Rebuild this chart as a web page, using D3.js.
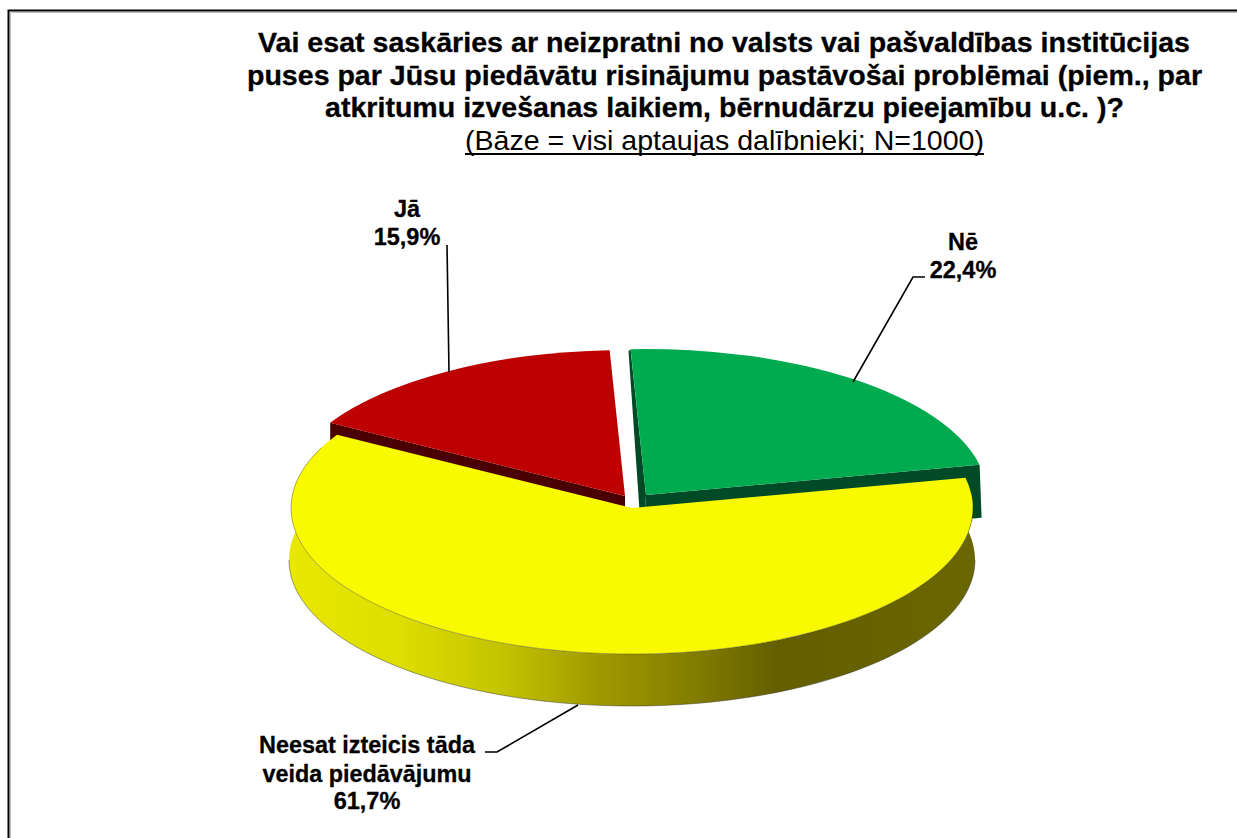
<!DOCTYPE html>
<html>
<head>
<meta charset="utf-8">
<script src="https://cdn.jsdelivr.net/npm/d3@7"></script>
<style>
html,body{margin:0;padding:0;background:#fff;overflow:hidden}
svg{display:block}
text{font-family:"Liberation Sans",Arial,sans-serif;fill:#000}
</style>
</head>
<body>
<svg id="c" width="1237" height="838"></svg>
<script>
const categories = ["Nē", "Neesat izteicis tāda veida piedāvājumu", "Jā"];
const values = [22.4, 61.7, 15.9];
const labelLines = [["Nē"], ["Neesat izteicis tāda", "veida piedāvājumu"], ["Jā"]];
const titleLines = [
  "Vai esat saskāries ar neizpratni no valsts vai pašvaldības institūcijas",
  "puses par Jūsu piedāvātu risinājumu pastāvošai problēmai (piem., par",
  "atkritumu izvešanas laikiem, bērnudārzu pieejamību u.c. )?"
];
const subtitle = "(Bāze = visi aptaujas dalībnieki; N=1000)";

// layout and style
const W = 1237, H = 838;
const rx = 341, ry = 146, depth = 52;
const startDeg = -2.6;
const sliceStyle = [
  {top:"#00aa4e", wall:"#004a26", apex:[646,495]},
  {top:"#f9f900", apex:[632,508]},
  {top:"#bd0000", wall:"#4a0000", apex:[625,496]}
];
const titleLayout = [
  {x0:258, x1:1190, y:52},
  {x0:247, x1:1202, y:85},
  {x0:325, x1:1124, y:117}
];
const labelLayout = [
  {cx:963, baselines:[250,278], textSpans:[null]},
  {cx:367, baselines:[753,782,809], textSpans:[216,209]},
  {cx:407, baselines:[217,245], textSpans:[null]}
];
const leaders = [
  [[925,277],[913,277],[853,382]],
  [[485,752],[497,752],[578,705]],
  [[447,245],[449,372]]
];
const sideStops = [
  [290,"#e8e800"],[400,"#dede00"],[506,"#c2c200"],[597,"#a09a00"],
  [687,"#857f00"],[778,"#635f00"],[975,"#6a6600"]
];

const svg = d3.select("#c");
const defs = svg.append("defs");
const grad = defs.append("linearGradient").attr("id","side")
  .attr("gradientUnits","userSpaceOnUse")
  .attr("x1",290).attr("x2",975).attr("y1",0).attr("y2",0);
const xStop = d3.scaleLinear().domain([290,975]).range([0,1]);
grad.selectAll("stop").data(sideStops).join("stop")
  .attr("offset",d=>xStop(d[0])).attr("stop-color",d=>d[1]);

// frame (runs off the right and bottom of the crop)
svg.append("path").attr("d",`M${W},10.5H8.5V${H}`).attr("fill","none").attr("stroke","#000").attr("stroke-width",2);
svg.append("path").attr("d",`M${W},12.5H10.5V${H}`).attr("fill","none").attr("stroke","#bbb").attr("stroke-width",1);

const pie = d3.pie().sort(null).value(d=>d)
  .startAngle(startDeg*Math.PI/180)
  .endAngle((startDeg+360)*Math.PI/180);
const arcs = pie(values);
const arcGen = d3.arc().innerRadius(0).outerRadius(1);
const pt = (c,a,rX=rx,rY=ry,dy=0)=>[c[0]+rX*Math.sin(a), c[1]-rY*Math.cos(a)+dy];
const line = d3.line();
const curve = (c,a0,a1,rX,rY,dy)=>d3.range(0,121).map(i=>pt(c,a0+(a1-a0)*i/120,rX,rY,dy));

// yellow slice outer side
const yA = arcs[1], yC = sliceStyle[1].apex;
const sideTop = curve(yC,yA.startAngle,yA.endAngle,rx,ry,0);
const sideBot = curve(yC,yA.startAngle,yA.endAngle,rx+2,ry,depth);
svg.append("path")
  .attr("d",line(sideTop.concat(sideBot.slice().reverse()))+"Z")
  .attr("fill","url(#side)");
svg.append("path")
  .attr("d",line(curve(yC,Math.PI/2,Math.PI*1.5,rx+2,ry,depth)))
  .attr("fill","none").attr("stroke","#333").attr("stroke-width",.8).attr("stroke-opacity",.6);

// cut walls of the exploded slices
const gA = arcs[0], gC = sliceStyle[0].apex;
const gS = pt(gC,gA.startAngle), gE = pt(gC,gA.endAngle);
svg.append("path")
  .attr("d",line([gS,[gS[0]-2,gS[1]+2],[gC[0]-4,gC[1]+depth],gC]) + "Z")
  .attr("fill",sliceStyle[0].wall);
svg.append("path")
  .attr("d",line([gC,gE,[gE[0]+2,gE[1]+depth+1],[gC[0]-4,gC[1]+depth]]) + "Z")
  .attr("fill",sliceStyle[0].wall);
const rA = arcs[2], rC = sliceStyle[2].apex;
const rS = pt(rC,rA.startAngle);
svg.append("path")
  .attr("d",line([rS,rC,[rC[0],rC[1]+depth],[rS[0],rS[1]+depth]]) + "Z")
  .attr("fill",sliceStyle[2].wall);

// top faces
[1,0,2].forEach(i=>{
  svg.append("path")
    .attr("d",arcGen(arcs[i]))
    .attr("transform",`translate(${sliceStyle[i].apex}) scale(${rx},${ry})`)
    .attr("fill",sliceStyle[i].top);
});
svg.append("path")
  .attr("d",line(curve(yC,yA.startAngle+0.2,yA.endAngle-0.1,rx,ry,0)))
  .attr("fill","none").attr("stroke","#333").attr("stroke-width",.7).attr("stroke-opacity",.55);

// leaders
leaders.forEach(p=>svg.append("path").attr("d",line(p)).attr("fill","none").attr("stroke","#000").attr("stroke-width",1.6));

// title
const T = svg.append("g");
titleLines.forEach((t,i)=>{
  const l = titleLayout[i];
  T.append("text").attr("x",l.x0).attr("y",l.y).attr("font-size",28).attr("font-weight","bold")
    .attr("stroke","#000").attr("stroke-width",.3)
    .attr("textLength",l.x1-l.x0).attr("lengthAdjust","spacingAndGlyphs").text(t);
});
T.append("text").attr("x",465).attr("y",150).attr("font-size",28)
  .attr("textLength",519).attr("lengthAdjust","spacingAndGlyphs").text(subtitle);
T.append("line").attr("x1",465).attr("x2",984).attr("y1",154).attr("y2",154).attr("stroke","#000").attr("stroke-width",2);

// labels
const fmt = v=>String(v).replace(".",",")+"%";
labelLines.forEach((lines,i)=>{
  const l = labelLayout[i];
  lines.concat([fmt(values[i])]).forEach((s,j)=>{
    const tx = svg.append("text").attr("x",l.cx).attr("y",l.baselines[j])
      .attr("text-anchor","middle").attr("font-size",23.5).attr("font-weight","bold")
      .attr("stroke","#000").attr("stroke-width",.3).text(s);
    if(l.textSpans[j]) tx.attr("textLength",l.textSpans[j]).attr("lengthAdjust","spacingAndGlyphs");
  });
});
</script>
</body>
</html>
